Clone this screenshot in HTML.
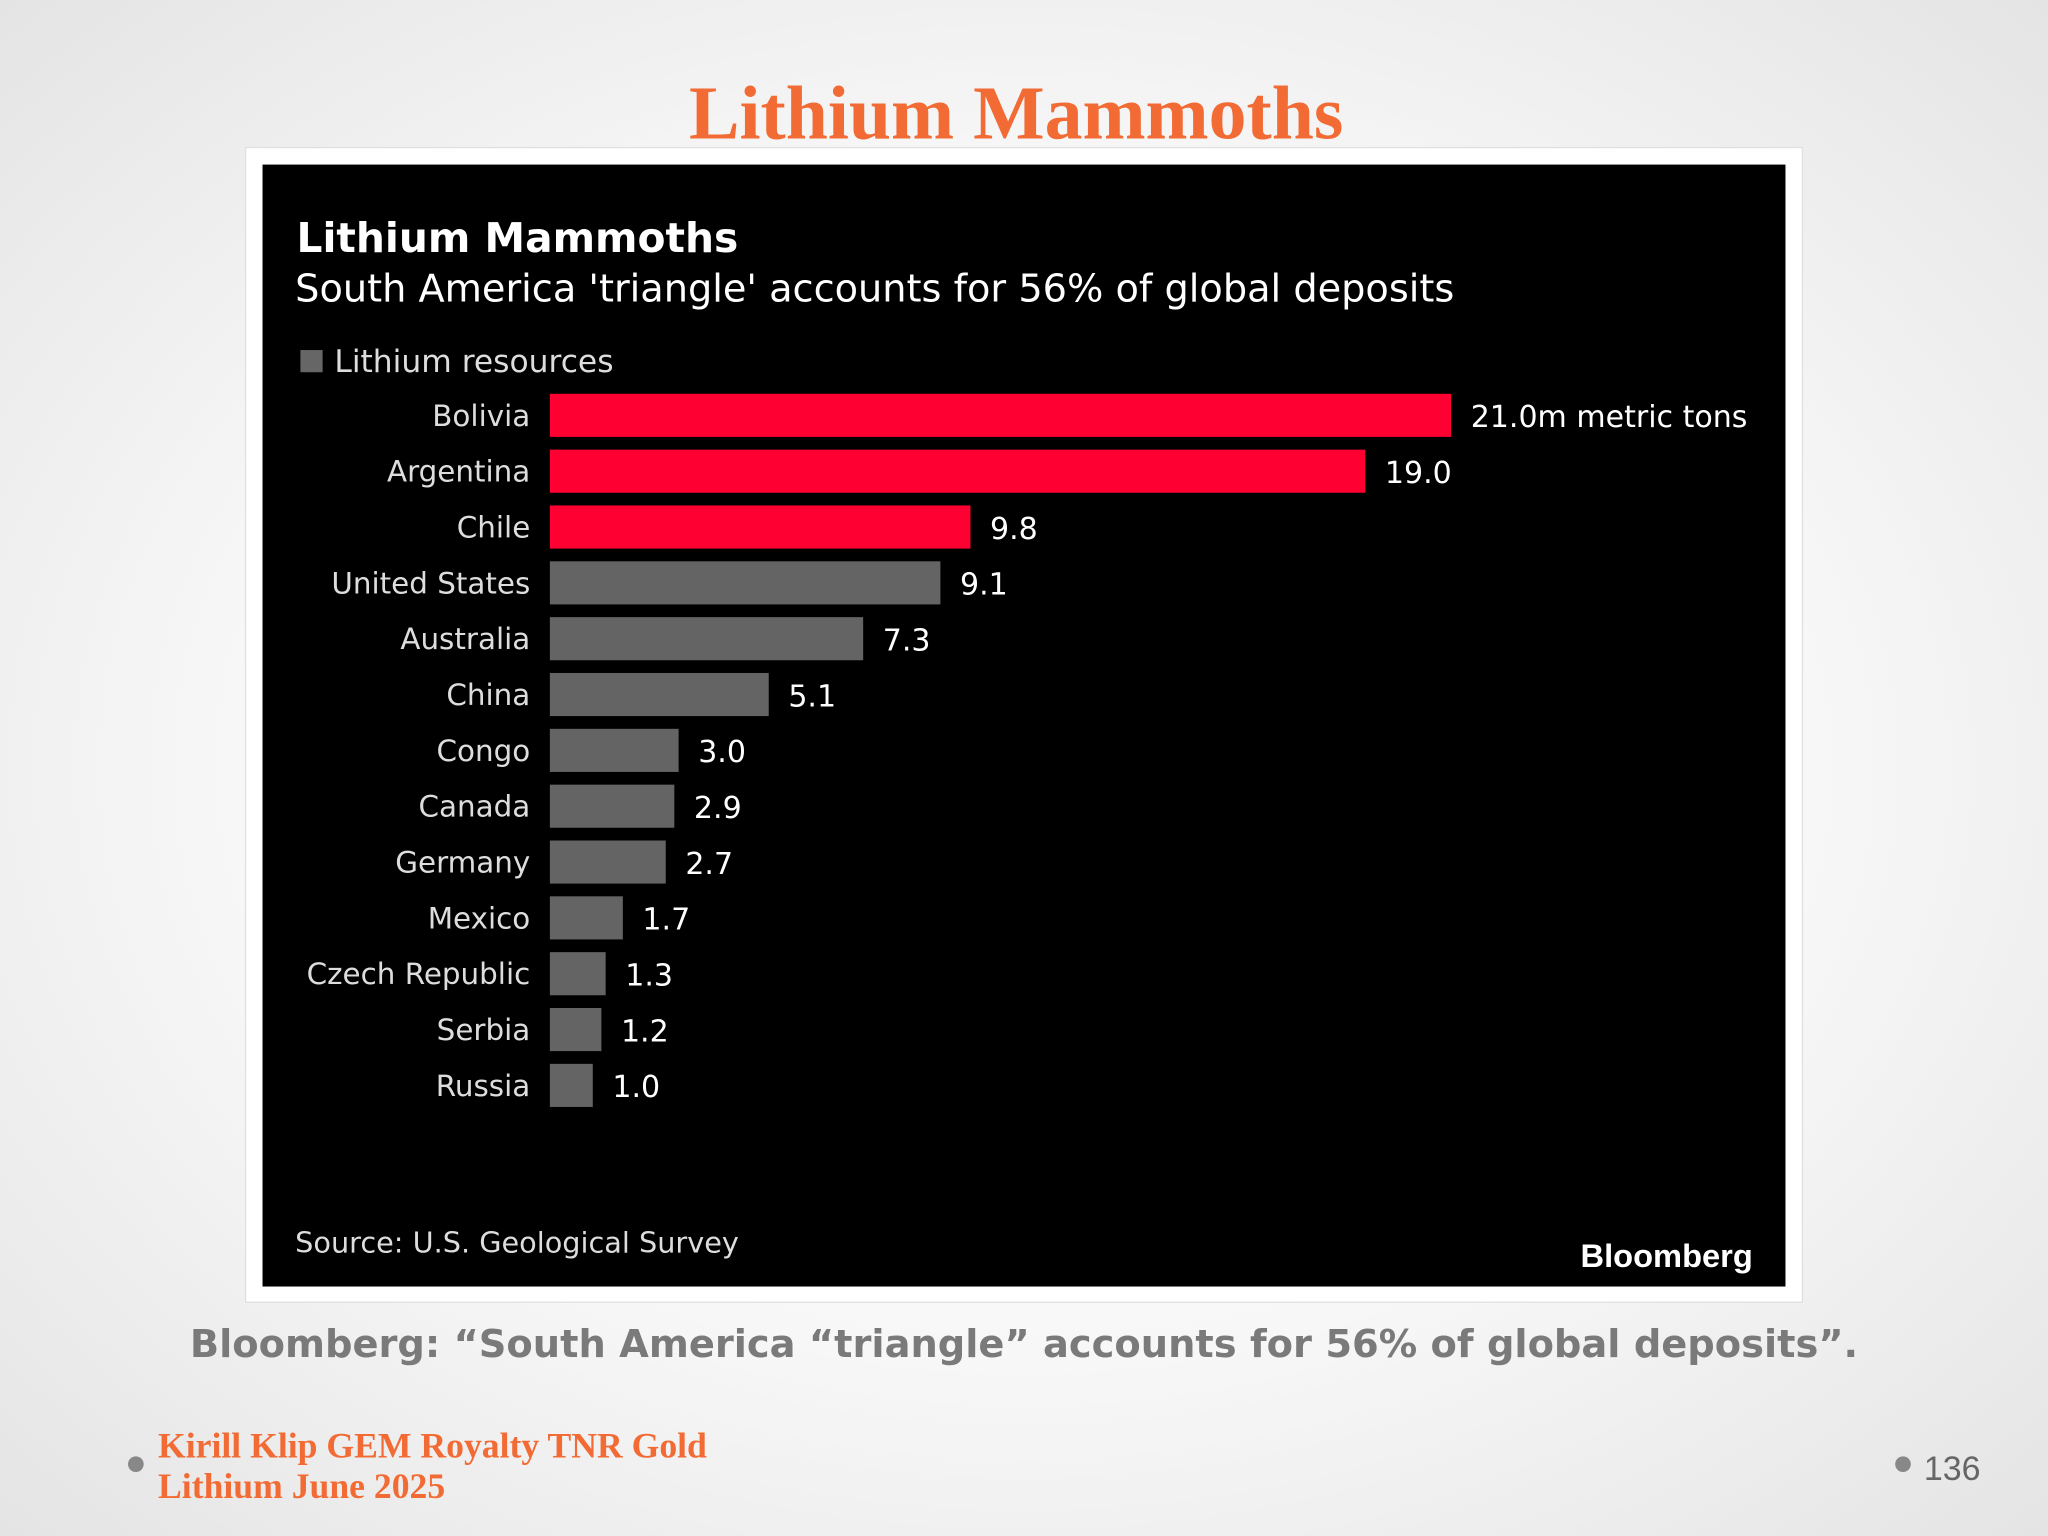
<!DOCTYPE html>
<html><head><meta charset="utf-8"><style>
html,body{margin:0;padding:0;}
body{width:2048px;height:1536px;overflow:hidden;background:radial-gradient(ellipse at center,#ffffff 0%,#f7f7f7 55%,#e4e4e4 100%);}
svg{display:block}
</style></head><body>
<svg width="2048" height="1536" viewBox="0 0 1568 1176" xmlns="http://www.w3.org/2000/svg">
<text x="778" y="106" text-anchor="middle" font-family="Liberation Serif, serif" font-weight="bold" font-size="58" fill="#f26b35">Lithium Mammoths</text>
<rect x="188" y="113" width="1192" height="884" fill="#ffffff" stroke="#e0e0e0"/>
<rect x="201" y="126" width="1166" height="859" fill="#000"/>
<text x="227" y="193" font-family="DejaVu Sans, sans-serif" font-weight="bold" font-size="31.2" fill="#fff">Lithium Mammoths</text>
<text x="226" y="231" font-family="DejaVu Sans, sans-serif" font-size="29.3" fill="#fff">South America 'triangle' accounts for 56% of global deposits</text>
<rect x="230" y="268" width="17" height="17" fill="#666"/>
<text x="256" y="285" font-family="DejaVu Sans, sans-serif" font-size="24" fill="#ddd">Lithium resources</text>
<g id="bars"></g>
<text x="226" y="959" font-family="DejaVu Sans, sans-serif" font-size="22" fill="#ddd">Source: U.S. Geological Survey</text>
<text x="1342" y="970" text-anchor="end" font-family="Liberation Sans, sans-serif" font-weight="bold" font-size="25" fill="#fff">Bloomberg</text>
<text x="784" y="1039" text-anchor="middle" font-family="DejaVu Sans, sans-serif" font-weight="bold" font-size="29.4" fill="#7a7a7a">Bloomberg: “South America “triangle” accounts for 56% of global deposits”.</text>
<circle cx="104" cy="1121" r="6" fill="#888"/>
<text x="121" y="1116" font-family="Liberation Serif, serif" font-weight="bold" font-size="27.3" fill="#f26b35">Kirill Klip GEM Royalty TNR Gold</text>
<text x="121" y="1147" font-family="Liberation Serif, serif" font-weight="bold" font-size="27.3" fill="#f26b35">Lithium June 2025</text>
<circle cx="1457" cy="1121" r="6" fill="#888"/>
<text x="1473" y="1133" font-family="Liberation Sans, sans-serif" font-size="26" fill="#666">136</text>
</svg>
<script>
const countries=["Bolivia","Argentina","Chile","United States","Australia","China","Congo","Canada","Germany","Mexico","Czech Republic","Serbia","Russia"];
const values=[21.0,19.0,9.8,9.1,7.3,5.1,3.0,2.9,2.7,1.7,1.3,1.2,1.0];
const highlighted=[true,true,true,false,false,false,false,false,false,false,false,false,false];
const NS="http://www.w3.org/2000/svg";
const x0=421, perUnit=690/21, y0=318, step=(831-318)/12, bh=33;
const xs=v=>x0+v*perUnit, ys=i=>y0+i*step;
const g=document.getElementById('bars');
countries.forEach((c,i)=>{
  const r=document.createElementNS(NS,'rect');
  
  
  r.setAttribute('x',x0);r.setAttribute('y',ys(i)-bh/2);
  r.setAttribute('width',xs(values[i])-x0);r.setAttribute('height',bh);
  r.setAttribute('fill',highlighted[i]?'#ff0033':'#646464');
  g.appendChild(r);
  const l=document.createElementNS(NS,'text');
  
  
  l.setAttribute('x',406);l.setAttribute('y',ys(i)+8);
  l.setAttribute('text-anchor','end');
  l.setAttribute('font-family','DejaVu Sans, sans-serif');l.setAttribute('font-size','22.5');l.setAttribute('fill','#ddd');
  l.textContent=c;g.appendChild(l);
  const v=document.createElementNS(NS,'text');
  
  
  v.setAttribute('x',xs(values[i])+15);v.setAttribute('y',ys(i)+9);
  v.setAttribute('font-family','DejaVu Sans, sans-serif');v.setAttribute('font-size','23');v.setAttribute('fill','#fff');
  v.textContent=values[i].toFixed(1)+(i===0?'m metric tons':'');g.appendChild(v);
});
</script>
</body></html>
